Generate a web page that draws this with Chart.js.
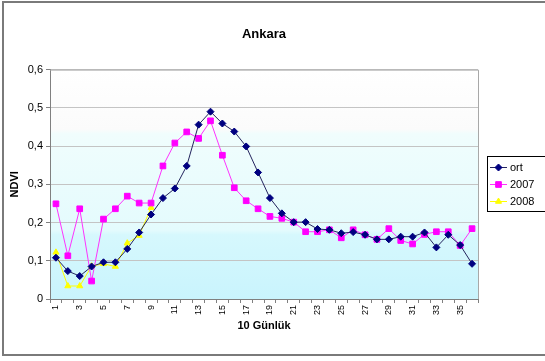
<!DOCTYPE html>
<html>
<head>
<meta charset="utf-8">
<script src="https://cdn.jsdelivr.net/npm/chart.js@4/dist/chart.umd.min.js"></script>
<style>
  html, body { margin: 0; padding: 0; background: #fff; }
  canvas { display: block; }
</style>
</head>
<body>
<canvas id="c" width="545" height="361"></canvas>
<script>
// 10-day periods of the year
const categories = ['1','2','3','4','5','6','7','8','9','10','11','12','13','14','15','16','17','18',
                    '19','20','21','22','23','24','25','26','27','28','29','30','31','32','33','34','35','36'];

// NDVI values for Ankara
const ort = [0.108, 0.073, 0.060, 0.085, 0.096, 0.096, 0.131, 0.174, 0.221, 0.264, 0.289, 0.348,
             0.456, 0.490, 0.459, 0.438, 0.399, 0.331, 0.264, 0.224, 0.201, 0.201, 0.183, 0.181,
             0.172, 0.175, 0.168, 0.156, 0.156, 0.163, 0.163, 0.174, 0.135, 0.168, 0.141, 0.092];
const y2007 = [0.249, 0.113, 0.236, 0.047, 0.209, 0.236, 0.269, 0.251, 0.251, 0.348, 0.408, 0.437,
               0.420, 0.466, 0.376, 0.291, 0.257, 0.236, 0.216, 0.211, 0.201, 0.176, 0.176, 0.181,
               0.160, 0.181, 0.168, 0.156, 0.184, 0.153, 0.144, 0.169, 0.176, 0.176, 0.140, 0.184];
const y2008 = [0.122, 0.034, 0.034, 0.086, 0.092, 0.085, 0.146, 0.166, 0.239];

const yTicks = [0, 0.1, 0.2, 0.3, 0.4, 0.5, 0.6];

const FONT = 'Arial, "Liberation Sans", sans-serif';

// Plot background, plot frame, boxed legend and outer chart frame
const decor = {
  id: 'decor',
  beforeDraw(chart) {
    const { ctx, chartArea: a, width, height } = chart;
    ctx.save();
    ctx.fillStyle = '#ffffff';
    ctx.fillRect(0, 0, width, height);
    const g = ctx.createLinearGradient(0, a.top, 0, a.bottom);
    g.addColorStop(0.00, '#ffffff');
    g.addColorStop(0.26, '#fbfbfb');
    g.addColorStop(0.28, '#f0fdfd');
    g.addColorStop(0.70, '#e4fbfd');
    g.addColorStop(0.72, '#d6f8fd');
    g.addColorStop(1.00, '#c9f4fd');
    ctx.fillStyle = g;
    ctx.fillRect(a.left, a.top, a.right - a.left, a.bottom - a.top);
    ctx.restore();
  },
  afterDraw(chart) {
    const { ctx, chartArea: a } = chart;
    ctx.save();
    // plot frame top / right
    ctx.strokeStyle = '#a8a8a8';
    ctx.lineWidth = 1;
    ctx.beginPath();
    ctx.moveTo(a.left, a.top + 0.5);
    ctx.lineTo(a.right + 0.5, a.top + 0.5);
    ctx.lineTo(a.right + 0.5, a.bottom);
    ctx.stroke();

    // legend
    const lx = a.right + 9, ly = 156, lw = 70, lh = 55;
    ctx.fillStyle = '#ffffff';
    ctx.fillRect(lx, ly, lw, lh);
    ctx.strokeStyle = '#000000';
    ctx.strokeRect(lx + 0.5, ly + 0.5, lw, lh);
    chart.data.datasets.forEach((ds, i) => {
      const y = ly + 11 + i * 17;
      const x0 = lx + 3, x1 = lx + 20, xm = (x0 + x1) / 2;
      ctx.strokeStyle = ds.borderColor;
      ctx.lineWidth = ds.borderWidth;
      ctx.beginPath();
      ctx.moveTo(x0, y + 0.5);
      ctx.lineTo(x1, y + 0.5);
      ctx.stroke();
      ctx.fillStyle = ds.pointBackgroundColor;
      ctx.strokeStyle = ds.pointBorderColor;
      ctx.lineWidth = 1;
      Chart.helpers.drawPoint(ctx, { pointStyle: ds.pointStyle, radius: ds.pointRadius, rotation: 0, borderWidth: 1 }, xm, y + 0.5);
      ctx.fillStyle = '#000000';
      ctx.font = '11px ' + FONT;
      ctx.textBaseline = 'middle';
      ctx.textAlign = 'left';
      ctx.fillText(ds.label, x1 + 3, y + 1);
    });

    // outer chart frame
    ctx.strokeStyle = '#7a7a7a';
    ctx.lineWidth = 2;
    ctx.strokeRect(3, 2, 560, 353);
    ctx.restore();
  }
};

new Chart(document.getElementById('c'), {
  type: 'line',
  data: {
    labels: categories,
    datasets: [
      {
        label: 'ort', data: ort,
        borderColor: '#24245e', borderWidth: 1,
        pointStyle: 'rectRot', pointRadius: 3.5,
        pointBackgroundColor: '#000080', pointBorderColor: '#000080',
        tension: 0
      },
      {
        label: '2007', data: y2007,
        borderColor: '#ff33ff', borderWidth: 1,
        pointStyle: 'rect', pointRadius: 4,
        pointBackgroundColor: '#ff00ff', pointBorderColor: '#ff00ff',
        tension: 0
      },
      {
        label: '2008', data: y2008,
        borderColor: '#ffff00', borderWidth: 1,
        pointStyle: 'triangle', pointRadius: 3.5,
        pointBackgroundColor: '#ffff00', pointBorderColor: '#ffff00',
        tension: 0
      }
    ]
  },
  options: {
    responsive: false,
    devicePixelRatio: 1,
    animation: false,
    layout: { padding: { left: 8, right: 67, top: 0, bottom: 26 } },
    plugins: {
      legend: { display: false },
      tooltip: { enabled: false },
      title: {
        display: true, text: 'Ankara', color: '#000', fullSize: false,
        font: { family: FONT, size: 13, weight: 'bold' },
        padding: { top: 27, bottom: 27 }
      }
    },
    scales: {
      x: {
        type: 'category', offset: true,
        ticks: {
          autoSkip: false, maxRotation: 90, minRotation: 90, padding: 2, color: '#000',
          font: { family: FONT, size: 9 },
          callback(v, i) { return i % 2 === 0 ? this.getLabelForValue(v) : ''; }
        },
        grid: { offset: true, drawOnChartArea: false, tickLength: 4, tickColor: '#808080' },
        border: { color: '#808080', width: 1 },
        title: {
          display: true, text: '10 Günlük', color: '#000',
          font: { family: FONT, size: 11, weight: 'bold' },
          padding: { top: 0, bottom: 2 }
        },
        afterFit(s) { s.height = 36; }
      },
      y: {
        min: yTicks[0], max: yTicks[yTicks.length - 1],
        afterBuildTicks(s) { s.ticks = yTicks.map(v => ({ value: v })); },
        ticks: {
          padding: 3, color: '#000',
          font: { family: FONT, size: 11 },
          callback(v) { return v === 0 ? '0' : v.toFixed(1).replace('.', ','); }
        },
        grid: { color: '#c4c4c4', tickLength: 4, tickColor: '#808080' },
        border: { color: '#808080', width: 1 },
        title: {
          display: true, text: 'NDVI', color: '#000',
          font: { family: FONT, size: 11, weight: 'bold' },
          padding: { top: 0, bottom: 0 }
        },
        afterFit(s) { s.width = 42; }
      }
    }
  },
  plugins: [decor]
});
</script>
</body>
</html>
